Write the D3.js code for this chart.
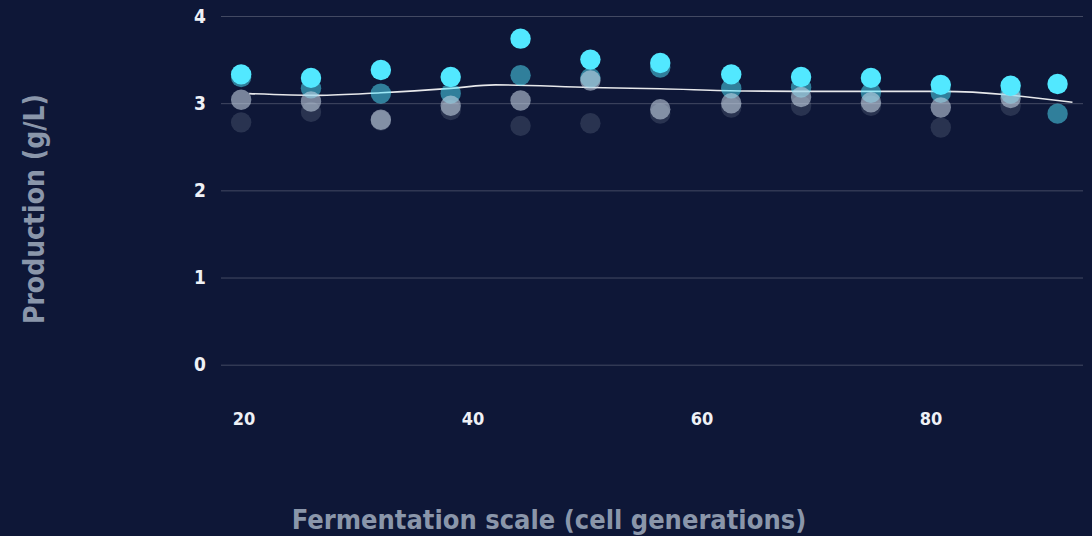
<!DOCTYPE html>
<html>
<head>
<meta charset="utf-8">
<script src="https://cdn.jsdelivr.net/npm/d3@7"></script>
<style>
  html, body { margin: 0; padding: 0; background: #0e1737; }
  svg { display: block; }
  text { font-family: "DejaVu Sans Condensed", "DejaVu Sans", sans-serif; font-stretch: condensed; }
</style>
</head>
<body>
<svg id="chart" width="1092" height="536"></svg>
<script>
// ---- data ----
const generations = [19.8, 25.9, 32.0, 38.1, 44.2, 50.3, 56.4, 62.6, 68.7, 74.8, 80.9, 87.0, 91.1];
const seriesCyan  = [3.33, 3.29, 3.38, 3.30, 3.74, 3.50, 3.46, 3.33, 3.30, 3.29, 3.21, 3.20, 3.22];
const seriesTeal  = [3.30, 3.17, 3.11, 3.11, 3.32, 3.29, 3.41, 3.17, 3.18, 3.12, 3.12, 3.11, 2.88];
const seriesGrey  = [3.04, 3.02, 2.81, 2.97, 3.03, 3.26, 2.93, 3.00, 3.07, 3.01, 2.95, 3.06, null];
const seriesDark  = [2.78, 2.90, 2.80, 2.92, 2.74, 2.77, 2.88, 2.95, 2.97, 2.97, 2.72, 2.97, null];
const trendX = [20.5, 26.5, 32.0, 38.1, 42.0, 50.3, 56.4, 63.8, 72.0, 81.0, 92.4];
const trendY = [3.11, 3.09, 3.12, 3.17, 3.21, 3.18, 3.165, 3.14, 3.135, 3.135, 3.01];
const xTicks = [20, 40, 60, 80];
const yTicks = [0, 1, 2, 3, 4];
const xTitle = "Fermentation scale (cell generations)";
const yTitle = "Production (g/L)";

// ---- layout ----
const svg = d3.select("#chart");
const x = d3.scaleLinear().domain([18.04, 93.32]).range([221, 1083]);
const y = d3.scaleLinear().domain([0, 4]).range([364.7, 16]);

// gridlines + y labels
const yAxis = d3.axisLeft(y).tickValues(yTicks).tickSize(-(1083 - 221)).tickPadding(15).tickFormat(d3.format("d"));
const gy = svg.append("g").attr("transform", "translate(221,0)").call(yAxis);
gy.select(".domain").remove();
gy.selectAll(".tick line").attr("stroke", "#ffffff").attr("stroke-opacity", 0.22).attr("stroke-width", 1);
gy.selectAll(".tick text").attr("fill", "#eef1f6").attr("font-size", 19).attr("font-weight", "bold")
  .attr("font-family", "'DejaVu Sans Condensed','DejaVu Sans',sans-serif");

// x labels
const xAxis = d3.axisBottom(x).tickValues(xTicks).tickSize(0).tickPadding(0).tickFormat(d3.format("d"));
const gx = svg.append("g").attr("transform", "translate(0,412)").call(xAxis);
gx.select(".domain").remove();
gx.selectAll(".tick text").attr("fill", "#eef1f6").attr("font-size", 18).attr("font-weight", "bold")
  .attr("font-family", "'DejaVu Sans Condensed','DejaVu Sans',sans-serif");

// trend line (under dots)
const line = d3.line().x(d => x(d[0])).y(d => y(d[1])).curve(d3.curveMonotoneX);
svg.append("path")
  .datum(trendX.map((v, i) => [v, trendY[i]]))
  .attr("d", line)
  .attr("fill", "none")
  .attr("stroke", "#ffffff")
  .attr("stroke-opacity", 0.9)
  .attr("stroke-width", 1.6);

// dots
const layers = [
  { vals: seriesDark, fill: "#c8d7e6", op: 0.15 },
  { vals: seriesTeal, fill: "#52e8ff", op: 0.5 },
  { vals: seriesGrey, fill: "#c8d7e6", op: 0.57 },
  { vals: seriesCyan, fill: "#52e8ff", op: 1 }
];
layers.forEach(L => {
  svg.append("g").selectAll("circle")
    .data(generations.map((g, i) => [g, L.vals[i]]).filter(d => d[1] != null))
    .join("circle")
    .attr("cx", d => x(d[0]))
    .attr("cy", d => y(d[1]))
    .attr("r", 10.2)
    .attr("fill", L.fill)
    .attr("fill-opacity", L.op);
});

// titles
svg.append("text")
  .attr("x", 549).attr("y", 529)
  .attr("text-anchor", "middle")
  .attr("fill", "#8a96aa").attr("font-size", 27).attr("font-weight", "bold")
  .text(xTitle);
svg.append("text")
  .attr("transform", "translate(43.5,209) rotate(-90)")
  .attr("text-anchor", "middle")
  .attr("fill", "#8a96aa").attr("font-size", 28).attr("font-weight", "bold")
  .text(yTitle);
</script>
</body>
</html>
